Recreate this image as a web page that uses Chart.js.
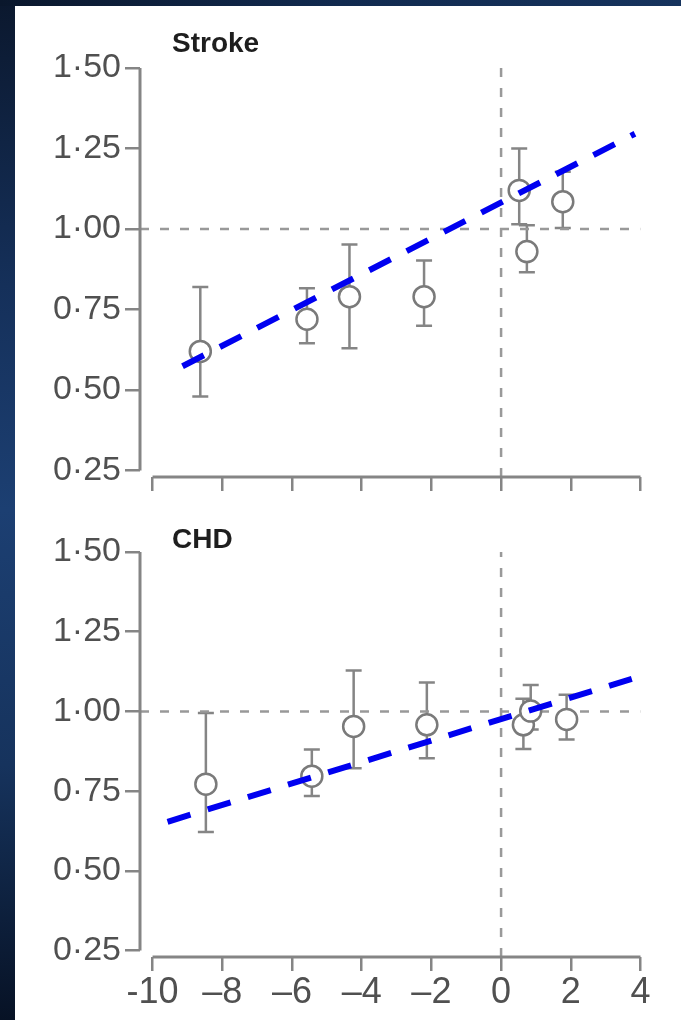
<!DOCTYPE html>
<html>
<head>
<meta charset="utf-8">
<script src="https://cdn.jsdelivr.net/npm/chart.js@4.4.0/dist/chart.umd.min.js"></script>
<style>
  html, body { margin: 0; padding: 0; }
  body {
    width: 681px; height: 1020px; overflow: hidden; position: relative;
    background: linear-gradient(180deg, #0b182e 0%, #15305a 28%, #1c3f72 50%, #16335d 75%, #071225 100%);
  }
  #strip { position: absolute; left: 0; top: 0; width: 681px; height: 6px;
           background: linear-gradient(90deg, #0a172c 0%, #112a4f 50%, #16335d 100%); }
  #panel { position: absolute; left: 15px; top: 6px; right: 0; bottom: 0; background: #fff; }
  canvas { position: absolute; left: 0; }
  #stroke { top: 0; }
  #chd { top: 510px; }
</style>
</head>
<body>
<div id="strip"></div>
<div id="panel"></div>
<canvas id="stroke" width="681" height="510"></canvas>
<canvas id="chd" width="681" height="510"></canvas>
<script>
// axes
var
    xTicks      = [-10, -8, -6, -4, -2, 0, 2, 4]
  , xTickLabels = ['-10', '–8', '–6', '–4', '–2', '0', '2', '4']
  , yTicks      = [0.25, 0.50, 0.75, 1.00, 1.25, 1.50]

// Stroke panel
  , strokeX     = [-8.63, -5.57, -4.35, -2.21, 0.52, 0.74, 1.77]
  , strokeY     = [0.62, 0.72, 0.79, 0.79, 1.12, 0.93, 1.085]
  , strokeLow   = [0.48, 0.645, 0.63, 0.70, 1.015, 0.866, 1.003]
  , strokeHigh  = [0.82, 0.816, 0.952, 0.902, 1.25, 1.012, 1.178]
  , strokeFitX  = [-9.14, 3.84]
  , strokeFitY  = [0.574, 1.296]

// CHD panel
  , chdX        = [-8.47, -5.43, -4.23, -2.13, 0.64, 0.85, 1.88]
  , chdY        = [0.772, 0.797, 0.953, 0.958, 0.958, 1.001, 0.975]
  , chdLow      = [0.622, 0.735, 0.822, 0.853, 0.882, 0.943, 0.912]
  , chdHigh     = [0.995, 0.881, 1.128, 1.091, 1.04, 1.083, 1.052]
  , chdFitX     = [-9.57, 3.75]
  , chdFitY     = [0.654, 1.102]

var
    axisGrey  = '#858585'
  , labelGrey = '#505050'
  , fontName  = '"Liberation Sans", Arial, sans-serif'

var toPoints = function (xs, ys) {
  return xs.map(function (x, i) { return { x: x, y: ys[i] } })
}

// whiskers under the circles
var errorBars = {
  id: 'errorBars',
  beforeDatasetsDraw: function (chart, args, opts) {
    var
        ctx = chart.ctx
      , xs  = chart.scales.x
      , ys  = chart.scales.y
      , cap = 8

    ctx.save()
    ctx.strokeStyle = axisGrey
    ctx.lineWidth = 2.5
    for (var i = 0; i < opts.x.length; i++) {
      var
          px = xs.getPixelForValue(opts.x[i])
        , lo = ys.getPixelForValue(opts.low[i])
        , hi = ys.getPixelForValue(opts.high[i])
      ctx.beginPath()
      ctx.moveTo(px, lo); ctx.lineTo(px, hi)
      ctx.moveTo(px - cap, lo); ctx.lineTo(px + cap, lo)
      ctx.moveTo(px - cap, hi); ctx.lineTo(px + cap, hi)
      ctx.stroke()
    }
    ctx.restore()
  }
}

// R style detached axis lines + panel title
var frame = {
  id: 'frame',
  afterDraw: function (chart, args, opts) {
    var
        ctx  = chart.ctx
      , area = chart.chartArea
      , xs   = chart.scales.x
      , ys   = chart.scales.y

    ctx.save()
    ctx.strokeStyle = axisGrey
    ctx.lineWidth = 3
    ctx.beginPath()
    ctx.moveTo(area.left, ys.getPixelForValue(yTicks[0]))
    ctx.lineTo(area.left, ys.getPixelForValue(yTicks[yTicks.length - 1]))
    ctx.moveTo(xs.getPixelForValue(xTicks[0]), area.bottom)
    ctx.lineTo(xs.getPixelForValue(xTicks[xTicks.length - 1]), area.bottom)
    ctx.stroke()

    ctx.fillStyle = '#1e1e1e'
    ctx.font = 'bold 28px ' + fontName
    ctx.textBaseline = 'middle'
    ctx.fillText(opts.title, area.left + 32, opts.titleY)
    ctx.restore()
  }
}

var drawPanel = function (id, cfg) {
  var
      yMin = 0.23
    , yMax = 1.525
    , xMin = -10.36
    , xMax = 4
    , refDash = [9, 11]

  new Chart(document.getElementById(id), {
    type: 'scatter',
    data: {
      datasets: [
          { type: 'line', data: toPoints(cfg.fitX, cfg.fitY), borderColor: '#0000f0', borderWidth: 6,
            borderDash: [24, 18], pointRadius: 0, fill: false, order: 0 }
        , { data: toPoints(cfg.x, cfg.y), pointRadius: 10.5, pointBorderWidth: 2.5,
            pointBorderColor: '#7a7a7a', pointBackgroundColor: '#fff', order: 1 }
        , { type: 'line', data: toPoints([xMin, xMax], [1, 1]), borderColor: '#999', borderWidth: 2.5,
            borderDash: refDash, pointRadius: 0, fill: false, order: 2 }
        , { type: 'line', data: toPoints([0, 0], [yMin, 1.5]), borderColor: '#999', borderWidth: 2.5,
            borderDash: refDash, pointRadius: 0, fill: false, order: 2 }
      ]
    },
    options: {
      responsive: false,
      animation: false,
      events: [],
      layout: { padding: { top: cfg.padTop, right: 40.5, left: 0, bottom: 0 } },
      plugins: {
        legend: { display: false },
        tooltip: { enabled: false },
        errorBars: { x: cfg.x, low: cfg.low, high: cfg.high },
        frame: { title: cfg.title, titleY: cfg.titleY }
      },
      scales: {
        x: {
          type: 'linear', min: xMin, max: xMax,
          afterBuildTicks: function (axis) { axis.ticks = xTicks.map(function (v) { return { value: v } }) },
          afterFit: function (axis) { axis.height = cfg.xAxisHeight },
          border: { display: false },
          grid: { drawOnChartArea: false, drawTicks: true, tickLength: 14, color: axisGrey, lineWidth: 2.5 },
          ticks: {
            display: cfg.showX, autoSkip: false, maxRotation: 0, padding: 0, color: labelGrey,
            font: { family: fontName, size: 36 },
            callback: function (v, i) { return xTickLabels[i] }
          }
        },
        y: {
          type: 'linear', min: yMin, max: yMax,
          afterBuildTicks: function (axis) { axis.ticks = yTicks.map(function (v) { return { value: v } }) },
          afterFit: function (axis) { axis.width = 140 },
          border: { display: false },
          grid: { drawOnChartArea: false, drawTicks: true, tickLength: 15, color: axisGrey, lineWidth: 2.5 },
          ticks: {
            padding: 4, color: labelGrey,
            font: { family: fontName, size: 34 },
            callback: function (v) { return v.toFixed(2).replace('.', '·') }
          }
        }
      }
    },
    plugins: [errorBars, frame]
  })
}

drawPanel('stroke', {
    title: 'Stroke', titleY: 44, padTop: 60, xAxisHeight: 33, showX: false
  , x: strokeX, y: strokeY, low: strokeLow, high: strokeHigh, fitX: strokeFitX, fitY: strokeFitY
})

drawPanel('chd', {
    title: 'CHD', titleY: 30, padTop: 34, xAxisHeight: 63, showX: true
  , x: chdX, y: chdY, low: chdLow, high: chdHigh, fitX: chdFitX, fitY: chdFitY
})
</script>
</body>
</html>
